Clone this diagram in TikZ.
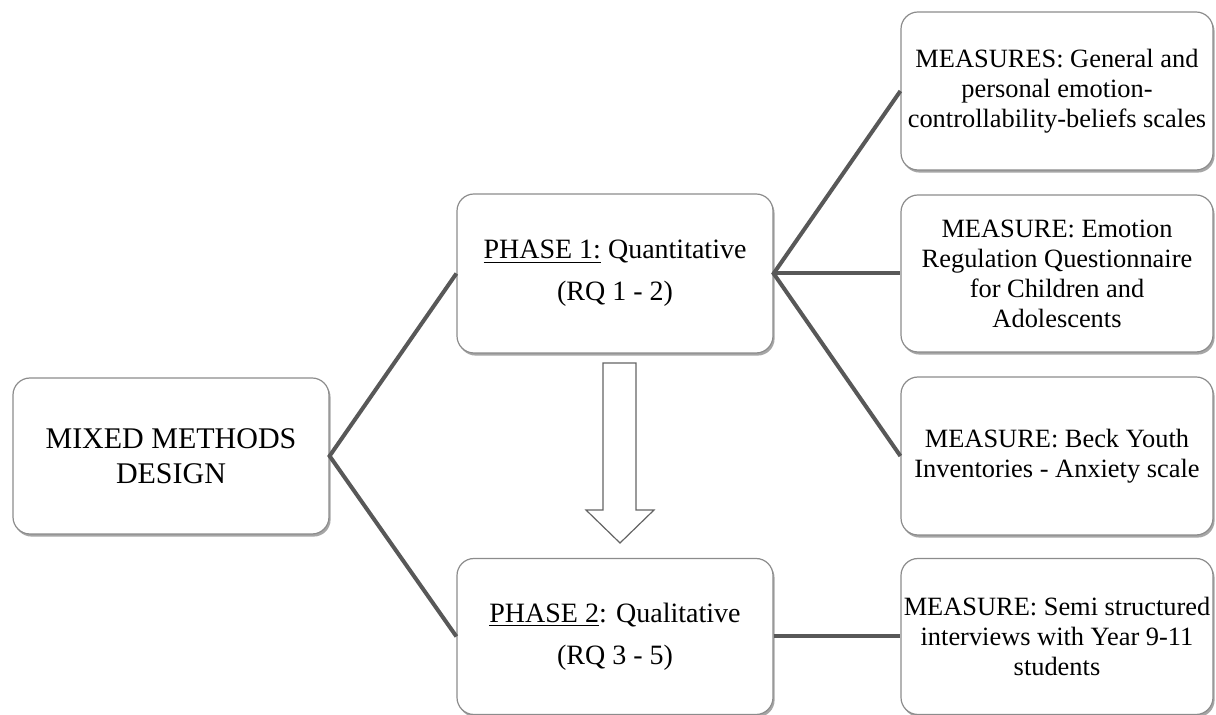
\documentclass[tikz,border=0pt]{standalone}
\usepackage{fontspec}
\setmainfont{Liberation Serif}
\usetikzlibrary{shadows}
\definecolor{boxgray}{RGB}{140,140,140}
\definecolor{linkgray}{RGB}{88,88,88}
\definecolor{arrowgray}{RGB}{100,100,100}
\begin{document}
\begin{tikzpicture}[x=0.5pt,y=-0.5pt,
  box/.style={draw=boxgray, line width=0.6pt, rounded corners=8.5pt, fill=white,
    minimum width=158pt, minimum height=79pt, inner sep=0pt, align=center,
    drop shadow={shadow xshift=0.8pt, shadow yshift=-1.3pt, opacity=0.35, fill=black}},
  mfont/.style={font=\fontsize{13.2}{15}\selectfont},
  pfont/.style={font=\fontsize{14}{21}\selectfont},
  link/.style={draw=linkgray, line width=2pt},
  blockarrow/.style={draw=arrowgray, line width=0.6pt, fill=white, line join=miter}]
\useasboundingbox (0,0) rectangle (1216,715);

\node[box, minimum height=78pt, font=\fontsize{15}{17.5}\selectfont] (mixed) at (171,456) {MIXED METHODS\\DESIGN};

\node[box, pfont, minimum height=79.5pt] (phase1) at (615,273.5) {\underline{PHASE 1:} Quantitative\\(RQ 1 - 2)};
\node[box, pfont, minimum height=78pt] (phase2) at (615,636.5) {\underline{PHASE 2}: Qualitative\\(RQ 3 - 5)};

\node[box, mfont, minimum width=156pt] (m1) at (1057,91) {MEASURES: General and\\personal emotion-\\controllability-beliefs scales};
\node[box, mfont, minimum width=156pt, minimum height=78.5pt] (m2) at (1057,273.5) {MEASURE: Emotion\\Regulation Questionnaire\\for Children and\\Adolescents};
\node[box, mfont, minimum width=156pt] (m3) at (1057,456) {MEASURE: Beck Youth\\Inventories - Anxiety scale};
\node[box, mfont, minimum width=156pt, minimum height=78pt] (m4) at (1057,636.5) {MEASURE: Semi structured\\interviews with Year 9-11\\students};

\draw[link] (phase1.west) -- (mixed.east) -- (phase2.west);
\draw[link] (m1.west) -- (phase1.east) -- (m3.west);
\draw[link] (phase1.east) -- (m2.west);
\draw[link] (phase2.east) -- (m4.west);

\draw[blockarrow] (603,363) -- (636,363) -- (636,510) -- (654,510) -- (620,543)
  -- (586,510) -- (603,510) -- cycle;
\end{tikzpicture}
\end{document}
